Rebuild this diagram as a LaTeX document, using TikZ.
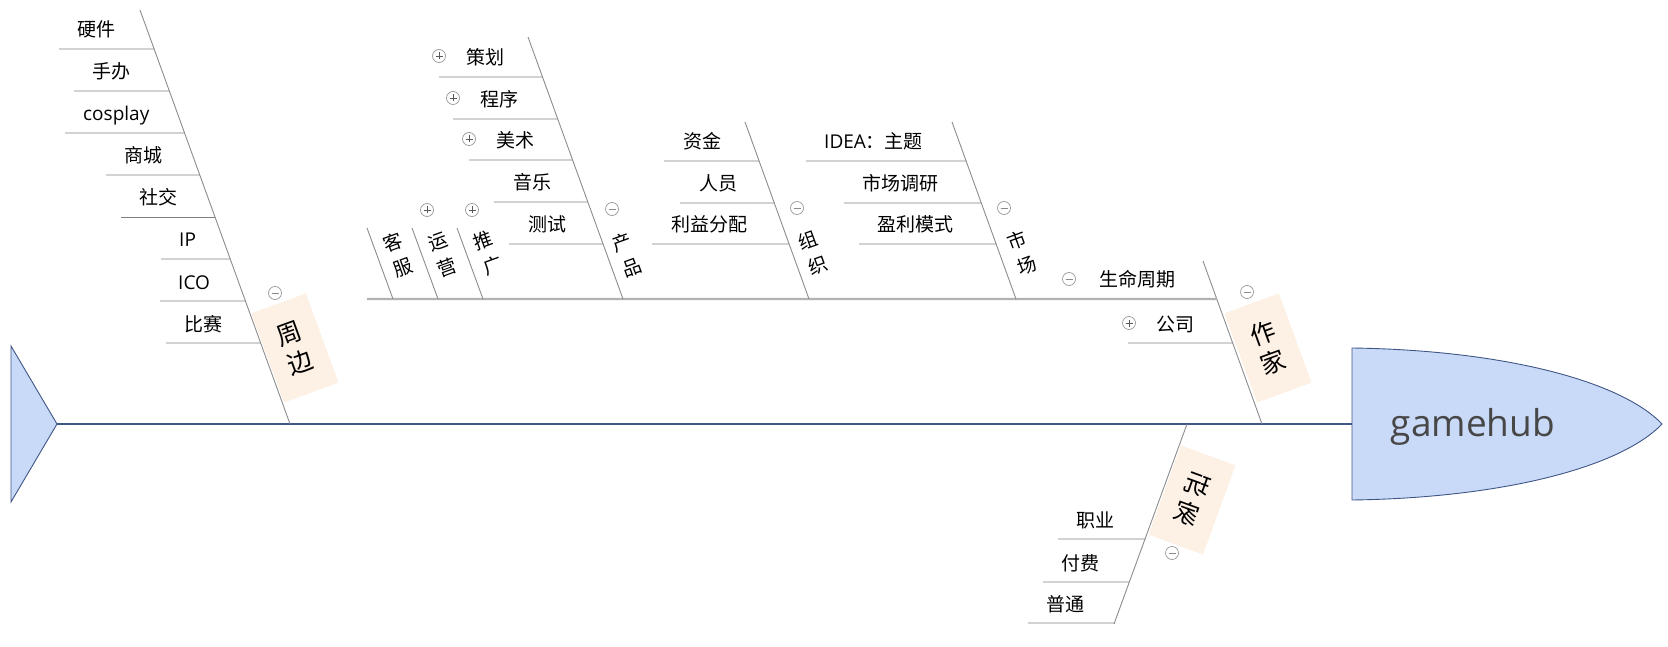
\documentclass[tikz,border=0pt]{standalone}
\usepackage{fontspec}
\setmainfont{Noto Sans CJK SC}
\newfontfamily\lat{Open Sans}
\usetikzlibrary{calc}
\definecolor{spine}{RGB}{63,86,135}
\definecolor{headfill}{RGB}{201,218,248}
\definecolor{peach}{RGB}{253,240,228}

\begin{document}
\begin{tikzpicture}[x=1pt,y=-1pt,
  lbl/.style={font=\fontsize{19}{26}\selectfont,inner sep=0pt,anchor=base west},
  sub/.style={draw=black!50,line width=0.9pt},
  bone/.style={draw=black!45,line width=0.9pt},
  cat/.style={fill=peach,minimum width=58pt,minimum height=95pt,align=center,inner sep=0pt,
    font=\fontsize{25}{31}\selectfont},
  small/.style={align=center,inner sep=0pt,rotate=20,font=\fontsize{19}{27}\selectfont},
  tog/.style={circle,draw=black!40,line width=0.7pt,fill=white,minimum size=13pt,inner sep=0pt},
  tminus/.style={tog,path picture={\draw[black!45,line width=0.9pt]
    ([xshift=-3.5pt]path picture bounding box.center) -- ([xshift=3.5pt]path picture bounding box.center);}},
  tplus/.style={tog,path picture={\draw[black!65,line width=0.9pt]
    ([xshift=-3.5pt]path picture bounding box.center) -- ([xshift=3.5pt]path picture bounding box.center)
    ([yshift=-3.5pt]path picture bounding box.center) -- ([yshift=3.5pt]path picture bounding box.center);}}]
  \useasboundingbox (0,0) rectangle (1668,647);

  % spine, tail and head
  \coordinate (tail) at (57,424);
  \coordinate (head) at (1352,424);
  \draw[spine,line width=1.1pt] (tail) -- (head);
  \draw[spine,fill=headfill,line width=0.9pt] (11,346) -- (tail) -- (11,502) -- cycle;
  \draw[spine,fill=headfill,line width=0.9pt] (1352,348) .. controls (1500,350) and (1620,380) .. (1662,424)
    .. controls (1620,468) and (1500,498) .. (1352,500) -- cycle;
  \node[font=\lat\fontsize{37}{44}\selectfont,text=black!72] (hub) at (1473,427) {gamehub};

  % main bones
  \coordinate (zbT) at (140,10);    \coordinate (zbB) at (290,424);
  \coordinate (zjT) at (1203,261);  \coordinate (zjB) at (1262,424);
  \coordinate (wjT) at (1187,424);  \coordinate (wjB) at (1114,624);
  \node[cat,rotate=20] (zb) at (295,348) {周\\边};
  \node[cat,rotate=20] (zj) at (1268,348) {作\\家};
  \node[cat,rotate=-20,xscale=-1] (wj) at (1192,500) {玩\\家};
  \draw[bone] (zbT) -- (zbB);
  \draw[bone] (zjT) -- (zjB);
  \draw[bone] (wjT) -- (wjB);
  \node[tminus] (zbm) at (275,293) {};
  \node[tminus] (zjm) at (1247,292) {};
  \node[tminus] (wjm) at (1172,553) {};

  \foreach \n/\y/\xl/\t in {1/49/59/硬件,2/91/74/手办,3/133/65/{\lat cosplay},4/175/106/商城,
      5/217/121/社交,6/259/161/{\lat IP},7/301/160/{\lat ICO},8/343/166/比赛}{
    \coordinate (zbl\n) at (\xl,\y);
    \draw[sub] (zbl\n) -- ($(zbT)!{(\y-10)/414}!(zbB)$);
    \node[lbl] (zbt\n) at ([shift={(18,-12)}]zbl\n) {\t};
  }

  \foreach \n/\y/\xl/\t in {1/539/1058/职业,2/582/1043/付费,3/623/1028/普通}{
    \coordinate (wjl\n) at (\xl,\y);
    \draw[sub] (wjl\n) -- ($(wjT)!{(\y-424)/200}!(wjB)$);
    \node[lbl] (wjt\n) at ([shift={(18,-12)}]wjl\n) {\t};
  }

  % 作家: 生命周期 and 公司
  \coordinate (smL) at (367,299);
  \coordinate (smR) at ($(zjT)!{38/163}!(zjB)$);
  \draw[draw=black!30,line width=2.2pt] (smL) -- (smR);
  \node[tminus] (smm) at (1069,279) {};
  \node[lbl] (sm) at (1099,287) {生命周期};
  \coordinate (gsl) at (1128,343);
  \draw[sub] (gsl) -- ($(zjT)!{82/163}!(zjB)$);
  \node[tplus] (gsp) at (1129,323) {};
  \node[lbl] (gs) at (1156,331) {公司};

  % bones on 生命周期
  \coordinate (kfT) at (367,228);  \coordinate (kfB) at (393,299);
  \coordinate (yyT) at (412,228);  \coordinate (yyB) at (438,299);
  \coordinate (tgT) at (457,228);  \coordinate (tgB) at (483,299);
  \coordinate (cpT) at (528,37);   \coordinate (cpB) at (623,299);
  \coordinate (zzT) at (745,122);  \coordinate (zzB) at (809,299);
  \coordinate (scT) at (952,122);  \coordinate (scB) at (1016,299);
  \foreach \b in {kf,yy,tg,cp,zz,sc} \draw[bone] (\b T) -- (\b B);
  \node[small] (kf) at (398,255) {客\\服};
  \node[small] (yy) at (443,255) {运\\营};
  \node[small] (tg) at (488,253) {推\\广};
  \node[small] (cp) at (627,255) {产\\品};
  \node[small] (zz) at (813,253) {组\\织};
  \node[small] (sc) at (1022,253) {市\\场};
  \node[tplus] (yyp) at (427,210) {};
  \node[tplus] (tgp) at (472,210) {};
  \node[tminus] (cpm) at (612,209) {};
  \node[tminus] (zzm) at (797,208) {};
  \node[tminus] (scm) at (1004,208) {};

  \foreach \n/\y/\xl/\t in {4/202/494/音乐,5/244/509/测试}{
    \coordinate (cpl\n) at (\xl,\y);
    \draw[sub] (cpl\n) -- ($(cpT)!{(\y-37)/262}!(cpB)$);
    \node[lbl] (cpt\n) at ([shift={(19,-12)}]cpl\n) {\t};
  }
  \foreach \n/\y/\xl/\t in {1/77/439/策划,2/119/453/程序,3/160/469/美术}{
    \coordinate (cpl\n) at (\xl,\y);
    \draw[sub] (cpl\n) -- ($(cpT)!{(\y-37)/262}!(cpB)$);
    \node[tplus] (cpp\n) at ([yshift=21pt]cpl\n) {};
    \node[lbl] (cpt\n) at ([shift={(27,-12)}]cpl\n) {\t};
  }
  \foreach \n/\y/\xl/\t in {1/161/664/资金,2/203/680/人员,3/244/652/利益分配}{
    \coordinate (zzl\n) at (\xl,\y);
    \draw[sub] (zzl\n) -- ($(zzT)!{(\y-122)/177}!(zzB)$);
    \node[lbl] (zzt\n) at ([shift={(19,-12)}]zzl\n) {\t};
  }
  \foreach \n/\y/\xl/\t in {1/161/806/{{\lat IDEA}：主题},2/203/844/市场调研,3/244/859/盈利模式}{
    \coordinate (scl\n) at (\xl,\y);
    \draw[sub] (scl\n) -- ($(scT)!{(\y-122)/177}!(scB)$);
    \node[lbl] (sct\n) at ([shift={(18,-12)}]scl\n) {\t};
  }
\end{tikzpicture}
\end{document}
